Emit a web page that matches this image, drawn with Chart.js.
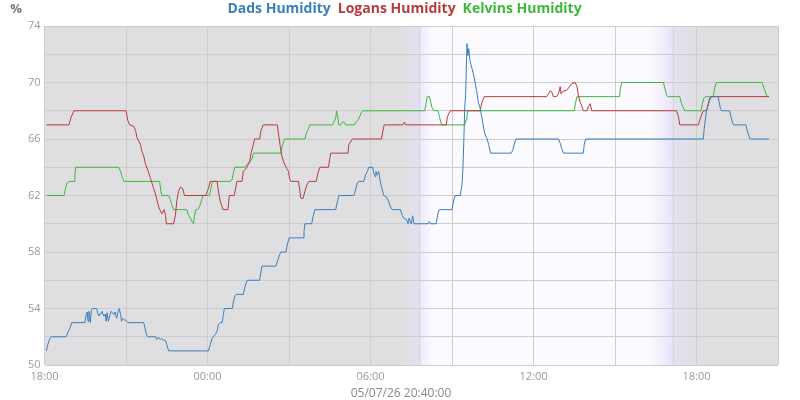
<!DOCTYPE html>
<html>
<head>
<meta charset="utf-8">
<script src="https://cdn.jsdelivr.net/npm/chart.js@4"></script>
<style>
  body { margin: 0; background: #fff; }
  #wrap { width: 800px; height: 400px; }
</style>
</head>
<body>
<div id="wrap"><canvas id="grafico"></canvas></div>
<script>
// series names / colours
const seriesNames = ['Dads Humidity', 'Logans Humidity', 'Kelvins Humidity'];
const seriesColors = ['#3b7fba', '#b73b3b', '#3db83d'];

// readings: [minutes since 18:00, % humidity]
const dadsHumidity = [
  [4,51],[7,51.44],[12,51.9],[15,52],[48,52],[51,52.27],[56,52.6],[60,53],[89,53],[92,53.57],[94,53.75],[96,53.1],
  [98,53.8],[101,53],[103,53.8],[105,54],[115,54],[118,53.6],[120,53.5],[123,53.57],[127,53.8],[131,53.45],[134,53.6],
  [136,53.1],[138,53.7],[141,53.1],[144,53.5],[147,53.8],[150,53.7],[153,53.57],[156,53.75],[159,53.3],[162,53.7],
  [165,54],[168,53.57],[170,53.1],[173,53.3],[176,53.2],[180,53.15],[184,53],[219,53],[222,52.6],[225,52.15],[228,52],
  [245,52],[248,51.8],[252,51.96],[256,51.8],[259,51.87],[263,51.77],[267,51.73],[270,51.44],[274,51],[362,51],
  [366,51.44],[370,51.9],[373,52],[377,52.15],[381,52.4],[384,52.86],[388,53],[392,53],[395,53.57],[397,54],[415,54],
  [417,54.5],[421,54.93],[423,55],[439,55],[442,55.45],[445,55.8],[448,56],[475,56],[478,56.6],[480,57],[511,57],
  [514,57.3],[519,57.8],[522,58],[533,58],[536,58.5],[540,59],[571,59],[573,59.45],[575,60],[590,60],[593,60.5],
  [597,61],[643,61],[647,61.6],[650,62],[683,62],[687,62.4],[691,62.9],[694,63],[705,63],[709,63.45],[713,63.7],
  [716,64],[725,64],[727,63.6],[730,63.35],[732,63.7],[735,63.45],[738,63.7],[742,62.9],[746,62.4],[749,62],
  [755,61.9],[760,61.6],[764,61.2],[768,61],[786,61],[790,60.6],[793,60.4],[799,60.3],[803,60],[805,60.4],[810,60],
  [813,60.56],[816,60],[847,60],[850,60.16],[853,60],[865,60],[869,60.75],[872,61],[900,61],[904,61.7],[907,62],
  [918,62],[922,62.75],[924,63.9],[926,65.8],[928,68.2],[930,69.1],[933,72.75],[935,71.9],[937,72.4],[939,71.7],
  [940,71.46],[944,71],[948,70.5],[951,70],[955,69.3],[958,68.6],[962,68.2],[966,67.5],[970,66.75],[973,66.3],
  [977,66.05],[981,65.6],[985,65],[1031,65],[1034,65.2],[1038,65.7],[1041,66],[1135,66],[1139,65.7],[1142,65.35],
  [1146,65],[1190,65],[1192,65.6],[1195,66],[1455,66],[1457,66.75],[1460,67.5],[1462,68],[1466,68.4],[1469,68.75],
  [1473,69],[1488,69],[1490,68.6],[1493,68.15],[1495,68],[1513,68],[1516,67.6],[1519,67.2],[1522,67],[1549,67],
  [1552,66.6],[1555,66.3],[1558,66],[1600,66]
];

const logansHumidity = [
  [4,67],[54,67],[58,67.5],[65,68],[180,68],[184,67.3],[188,67],[197,66.9],[201,66.6],[204,66.1],[212,65.6],
  [215,65.1],[219,64.8],[223,64.2],[228,63.8],[234,63.2],[237,62.9],[241,62.5],[245,62.1],[248,61.7],[252,61.2],
  [256,60.9],[259,60.7],[264,61],[267,60.6],[269,60],[285,60],[289,60.6],[292,61.6],[296,62.3],[300,62.6],[305,62.5],
  [309,62],[356,62],[362,62.5],[366,63],[381,63],[384,62.3],[388,61.6],[394,61],[405,61],[408,62],[419,62],[425,63],
  [436,63],[439,63.7],[447,64],[453,64.4],[456,65],[461,65.6],[464,66],[475,66],[478,66.6],[483,67],[514,67],
  [517,66.3],[520,65.6],[524,64.8],[529,64.3],[535,63.9],[539,63.7],[541,63.2],[544,63],[561,63],[564,62.3],
  [566,61.8],[571,61.8],[575,62.3],[580,62.8],[584,63],[600,63],[604,63.6],[608,64],[627,64],[630,64.6],[632,65],
  [670,65],[672,65.6],[680,66],[744,66],[747,66.5],[750,67],[791,67],[795,67.2],[797,67],[887,67],[890,67.6],
  [896,68],[962,68],[966,68.6],[971,69],[1109,69],[1113,69.2],[1117,69.4],[1120,69.35],[1124,69],[1131,69],
  [1135,69.2],[1139,69.7],[1141,69.2],[1146,69.4],[1153,69.45],[1157,69.6],[1164,69.9],[1172,70],[1176,69.7],
  [1179,69.1],[1183,68.6],[1187,68.3],[1190,68],[1198,68],[1201,68.3],[1205,68.5],[1209,68],[1396,68],[1400,67.6],
  [1403,67],[1444,67],[1447,67.3],[1451,67.7],[1455,68],[1462,68],[1466,68.5],[1469,68.9],[1473,69],[1600,69]
];

const kelvinsHumidity = [
  [4,62],[43,62],[46,62.5],[50,62.9],[54,63],[65,63],[67,63.5],[69,64],[164,64],[168,63.7],[171,63.35],[175,63],
  [254,63],[257,62.3],[259,62],[274,62],[278,61.7],[281,61.35],[285,61],[314,61],[318,60.6],[322,60.4],[325,60.2],
  [329,60],[331,60.5],[334,61],[338,61],[342,61.2],[346,61.6],[350,62],[364,62],[367,62.4],[370,62.9],[373,63],
  [410,63],[414,63.1],[417,63.6],[420,64],[443,64],[447,64.2],[454,64.4],[459,64.65],[461,65],[522,65],[525,65.5],
  [528,65.8],[531,66],[575,66],[578,66.4],[583,66.75],[586,67],[636,67],[639,67.2],[643,67.5],[645,68],[648,67.5],
  [650,67],[654,67],[658,67.2],[661,67.2],[665,67],[685,67],[688,67.2],[693,67.35],[696,67.6],[700,67.9],[703,68],
  [840,68],[843,68.6],[845,69],[850,69],[853,68.6],[856,68.2],[860,68],[869,68],[872,67.6],[875,67.2],[878,67],
  [928,67],[931,67.35],[933,67.6],[935,68],[1170,68],[1173,68.6],[1176,69],[1270,69],[1272,69.6],[1275,70],
  [1367,70],[1370,69.6],[1374,69.1],[1376,69],[1403,69],[1407,68.5],[1411,68.2],[1414,68],[1450,68],[1453,68.5],
  [1456,68.9],[1460,69],[1477,69],[1480,69.6],[1484,70],[1585,70],[1590,69.5],[1596,69],[1600,69]
];

// axis range (minutes since 18:00), sunrise / sunset shading
const xMax = 1620;
const yMin = 50, yMax = 74;
const sunrise = 826, sunset = 1387;
const dateLabel = '05/07/26 20:40:00';
const unitLabel = '%';

function clock(m) {
  const t = (18 * 60 + m) % 1440;
  return String(Math.floor(t / 60)).padStart(2, '0') + ':' + String(t % 60).padStart(2, '0');
}

// fundo noite / dia
const fundo = {
  id: 'fundo',
  beforeDraw(chart) {
    const { ctx, chartArea: a, scales: { x } } = chart;
    const g = ctx.createLinearGradient(a.left, 0, a.right, 0);
    const stop = (m, c) => g.addColorStop(Math.min(1, Math.max(0, (x.getPixelForValue(m) - a.left) / a.width)), c);
    stop(0, '#dfdfe1');
    stop(sunrise - 40, '#dfdfe1');
    stop(sunrise, '#e4e1f0');
    stop(sunrise + 10, '#f2eefe');
    stop(sunrise + 35, '#fbfaff');
    stop(sunset - 50, '#fbfaff');
    stop(sunset - 5, '#ebe5fa');
    stop(sunset, '#e4e1ef');
    stop(sunset + 55, '#dfdfe1');
    stop(xMax, '#dfdfe1');
    ctx.save();
    ctx.fillStyle = g;
    ctx.fillRect(a.left, a.top, a.width, a.height);
    ctx.strokeStyle = '#d6d4de';
    ctx.lineWidth = 1;
    [sunrise, sunset].forEach(m => {
      const px = Math.round(x.getPixelForValue(m)) + 0.5;
      ctx.beginPath();
      ctx.moveTo(px, a.top);
      ctx.lineTo(px, a.bottom);
      ctx.stroke();
    });
    ctx.restore();
  },
  afterDraw(chart) {
    const ctx = chart.ctx;
    ctx.save();
    ctx.font = 'bold 13px "Open Sans"';
    ctx.fillStyle = '#777';
    ctx.textAlign = 'center';
    ctx.textBaseline = 'middle';
    ctx.fillText(unitLabel, 16, 9);
    ctx.restore();
  }
};

const series = [dadsHumidity, logansHumidity, kelvinsHumidity];

new Chart(document.getElementById('grafico'), {
  type: 'line',
  data: {
    datasets: series.map((s, i) => ({
      label: seriesNames[i],
      data: s.map(p => ({ x: p[0], y: p[1] })),
      borderColor: seriesColors[i],
      borderWidth: 1,
      pointRadius: 0,
      tension: 0,
      fill: false
    }))
  },
  plugins: [fundo],
  options: {
    responsive: true,
    maintainAspectRatio: false,
    animation: false,
    layout: { padding: { left: 24, right: 22, top: 2, bottom: 0 } },
    plugins: {
      legend: {
        position: 'top',
        labels: {
          padding: 0,
          boxWidth: 0,
          font: { family: 'Open Sans', size: 14, weight: 'bold' },
          generateLabels: chart => chart.data.datasets.map((d, i) => ({
            text: d.label,
            fontColor: seriesColors[i],
            fillStyle: 'transparent',
            strokeStyle: 'transparent',
            lineWidth: 0,
            hidden: false,
            datasetIndex: i
          }))
        }
      },
      subtitle: {
        display: true,
        position: 'bottom',
        text: dateLabel,
        color: '#888',
        font: { family: 'Open Sans', size: 12, weight: 'normal', lineHeight: 0.9 },
        padding: { top: 0, bottom: 1 }
      },
      tooltip: { enabled: false }
    },
    scales: {
      x: {
        type: 'linear',
        min: 0,
        max: xMax,
        border: { display: false },
        grid: { color: '#cdcdcd', drawTicks: false },
        ticks: {
          stepSize: 180,
          autoSkip: false,
          maxRotation: 0,
          padding: 5,
          color: '#999',
          font: { family: 'Open Sans', size: 11 },
          callback: v => (v % 360 === 0 ? clock(v) : '')
        }
      },
      y: {
        min: yMin,
        max: yMax,
        border: { display: false },
        grid: { color: '#cdcdcd', drawTicks: false },
        ticks: {
          stepSize: 2,
          autoSkip: false,
          padding: 4,
          color: '#999',
          font: { family: 'Open Sans', size: 11 },
          callback: v => ((v - yMin) % 4 === 0 ? v : '')
        }
      }
    }
  }
});
</script>
</body>
</html>
